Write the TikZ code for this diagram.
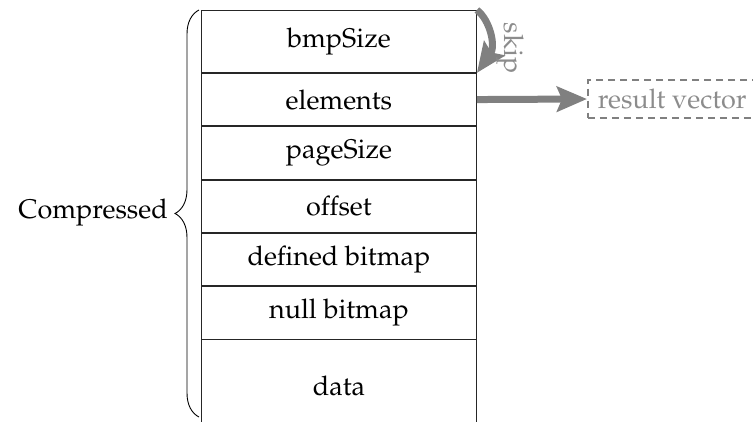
\documentclass[tikz,border=0pt]{standalone}
\usepackage[T1]{fontenc}
\usepackage{mathpazo}
\usetikzlibrary{arrows.meta,decorations.pathreplacing}
\begin{document}
\begin{tikzpicture}[x=1pt,y=-1pt,
  font=\fontsize{27}{32}\selectfont,
  rowbox/.style={draw=black!85, line width=0.9pt, minimum width=275pt,
    inner sep=0pt, anchor=north west},
  garrow/.style={draw=black!50, line width=7pt,
    -{Stealth[length=30pt,width=25pt,inset=5pt]}},
  gtext/.style={text=black!45}]
\useasboundingbox (0,0) rectangle (753,421);
\clip (0,0) rectangle (753,421);
\node[rowbox, minimum height=62pt] (r1) at (201,10) {bmpSize};
\node[rowbox, minimum height=52.4pt] (r2) at (r1.south west) {elements};
\node[rowbox, minimum height=52.4pt] (r3) at (r2.south west) {pageSize};
\node[rowbox, minimum height=52.4pt] (r4) at (r3.south west) {offset};
\node[rowbox, minimum height=52.4pt] (r5) at (r4.south west) {defined bitmap};
\node[rowbox, minimum height=52.4pt] (r6) at (r5.south west) {null bitmap};
\node[rowbox, minimum height=92pt] (r7) at (r6.south west) {data};
% brace
\coordinate (bt) at (199,10);
\coordinate (bb) at (199,417);
\draw[line width=0.9pt, decorate, decoration={brace, amplitude=24pt}] (bb) -- (bt);
\node[anchor=east, inner sep=0pt] (cmp) at (168,213) {Compressed};
% result vector
\node[draw=black!50, dashed, dash pattern=on 7pt off 5pt, line width=1.8pt,
  gtext, anchor=west, minimum height=38pt, inner xsep=10pt] (rv) at (587,99) {result vector};
\draw[garrow] (r2.east) -- (rv.west);
% skip
\draw[garrow] (r1.north east) .. controls (490,20) and (496,46) .. (r1.south east);
\node[gtext, rotate=-90, inner sep=0pt] (sk) at (510,48) {skip};
\end{tikzpicture}
\end{document}
